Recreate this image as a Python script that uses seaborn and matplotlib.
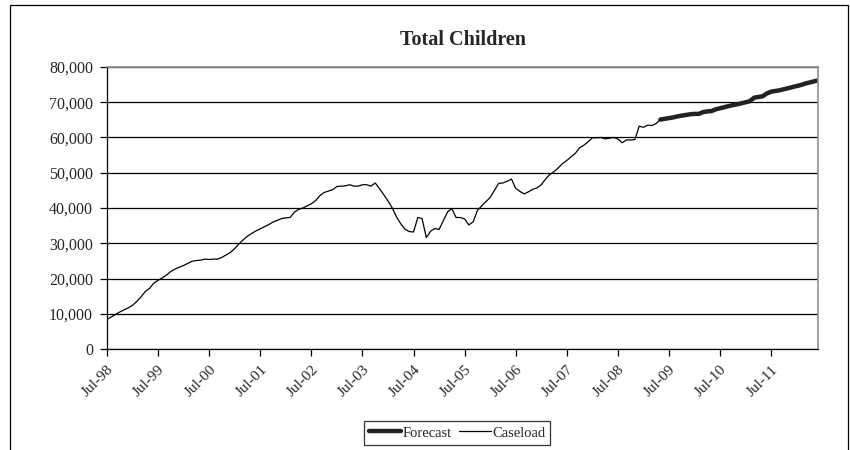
import numpy as np
import pandas as pd
import matplotlib
matplotlib.use("Agg")
import matplotlib.pyplot as plt
from matplotlib.patches import Rectangle
import seaborn as sns

# Valores mensais (Jul-98 .. Jun-12)
caseload = [
    8400, 9100, 9800, 10500, 11100, 11700, 12400, 13500, 14800, 16300, 17200, 18700,
    19500, 20200, 21000, 22000, 22700, 23200, 23700, 24300, 24900, 25100, 25200, 25500,
    25400, 25500, 25500, 26000, 26700, 27400, 28500, 29800, 31000, 32000, 32800, 33500,
    34100, 34700, 35300, 36000, 36500, 37000, 37200, 37300, 38800, 39600, 40000, 40600,
    41200, 42100, 43500, 44400, 44800, 45200, 46100, 46200, 46300, 46600, 46200, 46200,
    46600, 46600, 46200, 47100, 45500, 43800, 42000, 40000, 37500, 35500, 34000, 33300,
    33200, 37300, 37000, 31600, 33400, 34200, 33900, 36400, 38900, 39800, 37300, 37300,
    36900, 35200, 36100, 39300, 40600, 41800, 43000, 45000, 47000, 47100, 47600, 48200,
    45600, 44700, 44000, 44600, 45300, 45700, 46600, 48200, 49500, 50300, 51400, 52600,
    53500, 54500, 55500, 57100, 57800, 58800, 59900, 59900, 60000, 59600, 59800, 60000,
    59600, 58500, 59300, 59300, 59400, 63200, 62900, 63500, 63400, 64000, 65100,
]
forecast = [
    65100, 65300, 65500, 65700, 66000, 66200, 66400, 66600, 66700, 66700, 67200, 67400,
    67500, 68000, 68300, 68600, 68900, 69200, 69400, 69700, 70000, 70300, 71300, 71500,
    71700, 72500, 73000, 73200, 73400, 73700, 74000, 74300, 74600, 74900, 75300, 75600,
    75900, 76200,
]
tick_labels = ["Jul-98", "Jul-99", "Jul-00", "Jul-01", "Jul-02", "Jul-03", "Jul-04",
               "Jul-05", "Jul-06", "Jul-07", "Jul-08", "Jul-09", "Jul-10", "Jul-11"]

n_case = len(caseload)
df_case = pd.DataFrame({"mes": np.arange(n_case), "valor": caseload})
df_fc = pd.DataFrame({"mes": np.arange(n_case - 1, n_case - 1 + len(forecast)),
                      "valor": forecast})

sns.set_style("white")
plt.rcParams["font.family"] = ["Liberation Serif", "DejaVu Serif"]

fig = plt.figure(figsize=(8.5, 4.5), dpi=100)
ax = fig.add_axes([107 / 850, 1 - 349 / 450, 711 / 850, 282 / 450])

# moldura externa do gráfico
fig.patches.append(Rectangle((10 / 850, -0.1), 838 / 850, 1.1 - 5 / 450,
                             transform=fig.transFigure, fill=False,
                             edgecolor="black", linewidth=0.9))

sns.lineplot(data=df_fc, x="mes", y="valor", ax=ax, color="#222222",
             linewidth=3.2, label="Forecast")
sns.lineplot(data=df_case, x="mes", y="valor", ax=ax, color="black",
             linewidth=0.9, label="Caseload")

ax.set_xlim(0, df_fc["mes"].iloc[-1])
ax.set_ylim(0, 80000)
ax.set_yticks(np.arange(0, 80001, 10000))
ax.set_yticklabels([f"{v:,}" for v in range(0, 80001, 10000)], fontsize=11.5)
ax.set_xticks(np.arange(0, 12 * len(tick_labels), 12))
ax.set_xticklabels(tick_labels, rotation=45, ha="right", rotation_mode="anchor",
                   fontsize=11)
ax.tick_params(axis="both", direction="out", length=5, width=0.9, color="black",
               bottom=True, left=True, pad=5)
ax.set_xlabel("")
ax.set_ylabel("")

ax.grid(axis="y", color="black", linewidth=0.9)
ax.set_axisbelow(True)
for s in ["left", "bottom"]:
    ax.spines[s].set_color("black")
    ax.spines[s].set_linewidth(0.9)
for s in ["top", "right"]:
    ax.spines[s].set_color("#909090")
    ax.spines[s].set_linewidth(1.2)

fig.text(463 / 850, 1 - 40 / 450, "Total Children", ha="center", va="center",
         fontsize=14.5, fontweight="bold")

leg = ax.legend(loc="center", bbox_to_anchor=(457 / 850, 1 - 433 / 450),
                bbox_transform=fig.transFigure, ncol=2, frameon=True,
                fancybox=False, edgecolor="black", fontsize=10.5,
                handlelength=2.2, handletextpad=0.1, columnspacing=0.5,
                borderpad=0.35)
leg.get_frame().set_linewidth(0.9)

fig.savefig("out.png", dpi=100)
